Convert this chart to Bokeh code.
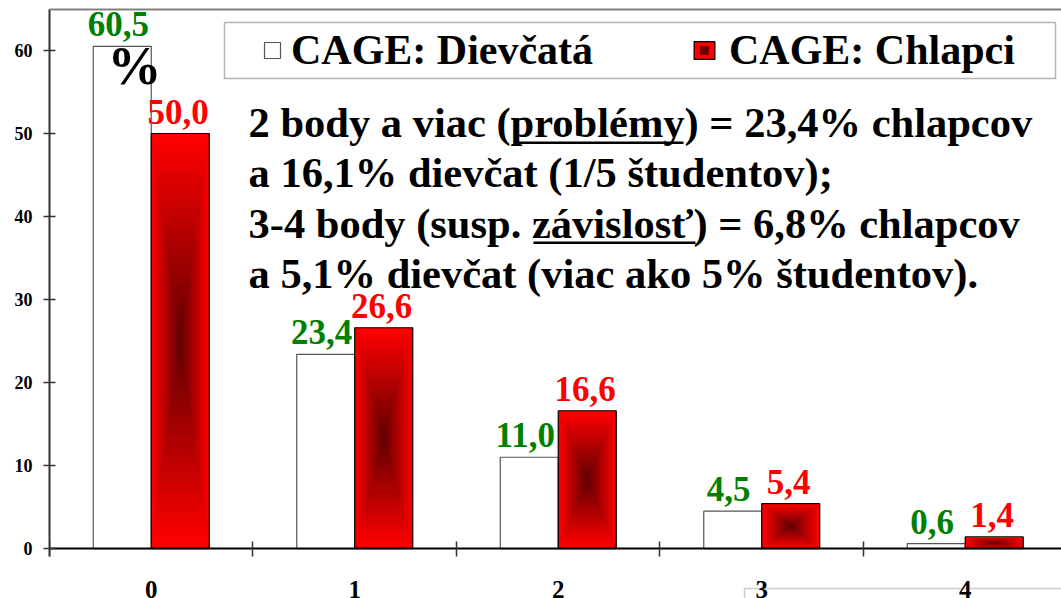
from bokeh.plotting import figure
from bokeh.models import (ColumnDataSource, FixedTicker, LinearAxis, Range1d,
                          Label, BoxAnnotation, Legend, LegendItem)
from bokeh.core.properties import value
from bokeh.embed import file_html
from bokeh.resources import INLINE

# ---- data ----
categories = ["0", "1", "2", "3", "4"]
girls = [60.5, 23.4, 11.0, 4.5, 0.6]
boys = [50.0, 26.6, 16.6, 5.4, 1.4]
girls_labels = ["60,5", "23,4", "11,0", "4,5", "0,6"]
boys_labels = ["50,0", "26,6", "16,6", "5,4", "1,4"]
y_ticks = [0, 10, 20, 30, 40, 50, 60]
series_names = ["CAGE: Dievčatá", "CAGE: Chlapci"]
note_lines = [
    "2 body a viac (problémy) = 23,4% chlapcov",
    "a 16,1% dievčat (1/5 študentov);",
    "3-4 body (susp. závislosť) = 6,8% chlapcov",
    "a 5,1% dievčat (viac ako 5% študentov).",
]

SERIF = "Liberation Serif"
BW = 0.285
n = len(categories)
xc = list(range(n))
xg = [i - BW / 2 for i in xc]
xb = [i + BW / 2 for i in xc]

W, H = 1061, 598
FL, FT = 49, 9          # frame left / top in page pixels
BASE = 0.37             # baseline correction (em)

p = figure(width=W, height=H, x_range=Range1d(-0.5, 4.473), y_range=Range1d(-6.02, 64.94),
           output_backend="svg", toolbar_location=None,
           min_border_left=FL, min_border_right=0, min_border_top=FT, min_border_bottom=0,
           x_axis_type=None, y_axis_type=None)
p.outline_line_color = None
p.xgrid.visible = False
p.ygrid.visible = False


def sx(px):
    return px - FL


def sy(py):
    return H - py


# axes
yaxis = LinearAxis(ticker=FixedTicker(ticks=y_ticks), bounds=(-1.0, 64.94),
                   major_tick_in=6, major_tick_out=6, minor_tick_in=0, minor_tick_out=0,
                   axis_line_color="#333333", axis_line_width=2,
                   major_tick_line_color="#333333", major_tick_line_width=1.5,
                   major_label_text_font=SERIF, major_label_text_font_style="bold",
                   major_label_text_font_size="18px", major_label_text_color="black",
                   major_label_standoff=11)
p.add_layout(yaxis, "left")

bounds = [i - 0.5 for i in range(n + 1)]
xaxis = LinearAxis(fixed_location=0, ticker=FixedTicker(ticks=xc, minor_ticks=bounds),
                   major_tick_in=0, major_tick_out=0, minor_tick_in=7, minor_tick_out=8,
                   axis_line_color="black", axis_line_width=2,
                   minor_tick_line_color="#333333", minor_tick_line_width=1.5,
                   major_label_overrides={i: c for i, c in zip(xc, categories)},
                   major_label_text_font=SERIF, major_label_text_font_style="bold",
                   major_label_text_font_size="25px", major_label_text_color="black",
                   major_label_standoff=24)
p.add_layout(xaxis, "below")

top_axis = LinearAxis(ticker=FixedTicker(ticks=[]), major_tick_in=0, major_tick_out=0,
                      minor_tick_in=0, minor_tick_out=0,
                      axis_line_color="#808080", axis_line_width=2,
                      major_label_text_font_size="1px")
p.add_layout(top_axis, "above")

# bars
girls_r = p.vbar(x=xg, top=girls, width=BW, fill_color="white",
                 line_color="#555555", line_width=1.2)
boys_r = p.vbar(x=xb, top=boys, width=BW, fill_color="#ff0000", line_color="black",
                line_width=1.2)
N = 22
for k in range(1, N):
    s = 1 - k / N
    t = k / (N - 1)
    r = int(round(255 - (255 - 100) * t))
    col = "#%02x0000" % r
    p.rect(x=xb, y=[b / 2 for b in boys], width=BW * s, height=[b * s for b in boys],
           fill_color=col, line_color=None)

# value labels
VF = 35
p.text(x=xg, y=girls, text=girls_labels, text_color="#008000", text_font=value(SERIF),
       text_font_style="bold", text_font_size=f"{VF}px", text_align="center",
       text_baseline="alphabetic", y_offset=-(9 + BASE * VF), x_offset=-4)
p.text(x=xb, y=boys, text=boys_labels, text_color="#ff0000", text_font=value(SERIF),
       text_font_style="bold", text_font_size=f"{VF}px", text_align="center",
       text_baseline="alphabetic", y_offset=-(9 + BASE * VF), x_offset=-2)

# legend box
p.add_layout(BoxAnnotation(left=sx(224), right=sx(1055), top=sy(22), bottom=sy(78),
                           left_units="screen", right_units="screen",
                           top_units="screen", bottom_units="screen",
                           fill_color="white", fill_alpha=1,
                           line_color="black", line_width=1.5))
# box edge at bottom right
p.add_layout(BoxAnnotation(left=sx(744), right=sx(1120), top=sy(588), bottom=sy(640),
                           left_units="screen", right_units="screen",
                           top_units="screen", bottom_units="screen",
                           fill_alpha=0, line_color="#555555", line_width=1.5))

dummy_dark = p.scatter(x=[-20], y=[-50], marker="square", size=1,
                       fill_color="#6e0000", line_color=None)

common = dict(orientation="horizontal", padding=0, margin=0, border_line_color=None,
              background_fill_alpha=0,
              label_text_font=SERIF, label_text_font_style="bold",
              label_text_font_size="42px", label_text_color="black")
leg1 = Legend(items=[LegendItem(label=series_names[0], renderers=[girls_r])],
              location=(sx(262), sy(74)), glyph_width=20, glyph_height=20,
              label_standoff=9, **common)
leg2 = Legend(items=[LegendItem(label=series_names[1], renderers=[boys_r, dummy_dark])],
              location=(sx(691), sy(74)), glyph_width=26, glyph_height=22,
              label_standoff=12, **common)
p.add_layout(leg1)
p.add_layout(leg2)

# note text
NF = 42.5
note_base = [137.5, 188, 238.5, 288.5]
for line, yb in zip(note_lines, note_base):
    p.add_layout(Label(x=sx(248), y=sy(yb) + BASE * NF, x_units="screen", y_units="screen",
                       text=line, text_font=SERIF, text_font_style="bold",
                       text_font_size=f"{NF}px", text_color="black",
                       text_baseline="alphabetic"))
# underlines
for l, r_, yy in [(516, 683, 141), (533, 695, 241)]:
    p.add_layout(BoxAnnotation(left=sx(l), right=sx(r_), top=sy(yy), bottom=sy(yy + 2.5),
                               left_units="screen", right_units="screen",
                               top_units="screen", bottom_units="screen",
                               fill_color="black", fill_alpha=1, line_color=None))

PF = 54
p.add_layout(Label(x=sx(107), y=sy(85) + BASE * PF, x_units="screen", y_units="screen",
                   text="%", text_font=SERIF, text_font_style="bold",
                   text_font_size=f"{PF}px", text_color="black", text_baseline="alphabetic"))

open("out.html", "w").write(file_html(p, INLINE))
